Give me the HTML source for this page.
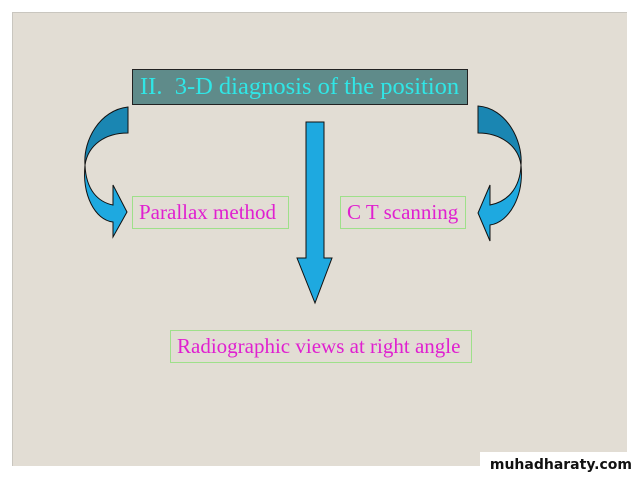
<!DOCTYPE html>
<html><head><style>
body{margin:0;width:638px;height:479px;background:#fff;position:relative;overflow:hidden;font-family:"Liberation Serif",serif}
.slide{position:absolute;left:12px;top:12px;width:614px;height:453px;background:#e2ddd4;border-left:1px solid #c9c6bf;border-top:1px solid #c9c6bf}
.box{position:absolute;border:1px solid #9ee08a;color:#e020d0;font-size:21px;line-height:31px;box-sizing:border-box;padding-left:6px;white-space:nowrap}
.wm{position:absolute;left:480px;top:452px;width:158px;height:27px;background:#fff;font-family:"DejaVu Sans",sans-serif;font-weight:bold;font-size:14px;color:#111;text-align:right;padding-right:6px;box-sizing:border-box;line-height:27px;white-space:nowrap}
</style></head><body>
<div class="slide"></div>
<div style="position:absolute;left:132px;top:69px;width:336px;height:36px;background:#5f8b8a;border:1px solid #222;box-sizing:border-box;color:#30e6e6;font-size:24.5px;line-height:34px;padding-left:7px;white-space:nowrap">II.&nbsp; 3-D diagnosis of the position</div>
<div class="box" style="left:132px;top:196px;width:157px;height:33px">Parallax method</div>
<div class="box" style="left:340px;top:196px;width:126px;height:33px">C T scanning</div>
<div class="box" style="left:170px;top:330px;width:302px;height:33px">Radiographic views at right angle</div>
<svg width="638" height="479" style="position:absolute;left:0;top:0">
<path d="M306,122 H324 V258 H332 L315,303 L297,258 H306 Z" fill="#1ea9e0" stroke="#111" stroke-width="1"/>
<path d="M128,107 V133 C105,133 88,145 85,165 C83,140 100,110 128,107 Z" fill="#1a86b2" stroke="#111"/>
<path d="M85,165 C86,190 98,202 113,205 L113,185 L127,212 L113,237 L113,222 C95,220 82,195 85,165 Z" fill="#1ea9e0" stroke="#111"/>
<path d="M478,106 V133 C500,133 518,145 521,165 C523,140 506,108 478,106 Z" fill="#1a86b2" stroke="#111"/>
<path d="M521,165 C520,190 506,202 490,205 L490,185 L478,213 L490,241 L490,225 C510,222 524,195 521,165 Z" fill="#1ea9e0" stroke="#111"/>
</svg>
<div class="wm">muhadharaty.com</div>
</body></html>
